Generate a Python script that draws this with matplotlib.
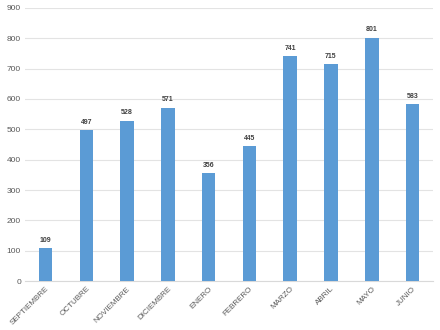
import matplotlib.pyplot as plt

meses = ['SEPTIEMBRE', 'OCTUBRE', 'NOVIEMBRE', 'DICIEMBRE', 'ENERO',
         'FEBRERO', 'MARZO', 'ABRIL', 'MAYO', 'JUNIO']
valores = [109, 497, 528, 571, 356, 445, 741, 715, 801, 583]
yticks = [0, 100, 200, 300, 400, 500, 600, 700, 800, 900]

plt.rcParams['font.family'] = ['Liberation Sans', 'DejaVu Sans']

fig = plt.figure(figsize=(4.4, 3.3), dpi=100)
ax = fig.add_axes([0.057, 0.148, 0.927, 0.828])

x = list(range(len(meses)))
bars = ax.bar(x, valores, width=0.33, color='#5B9BD5', zorder=3)

for b, v in zip(bars, valores):
    ax.text(b.get_x() + b.get_width() / 2, v + 15, str(v),
            ha='center', va='bottom', fontsize=5, fontweight='bold', color='#404040')

ax.set_xlim(-0.5, len(meses) - 0.5)
ax.set_ylim(0, 900)
ax.set_yticks(yticks)
ax.set_yticklabels([str(t) for t in yticks], fontsize=6, color='#595959')
ax.set_xticks(x)
ax.set_xticklabels(meses, rotation=45, ha='right', rotation_mode='anchor',
                   fontsize=5.8, color='#595959')
ax.grid(axis='y', color='#E3E3E3', linewidth=0.8, zorder=0)
for s in ['top', 'right', 'left']:
    ax.spines[s].set_visible(False)
ax.spines['bottom'].set_color('#D9D9D9')
ax.tick_params(axis='both', length=0, pad=3)

plt.savefig('out.png', dpi=100)
